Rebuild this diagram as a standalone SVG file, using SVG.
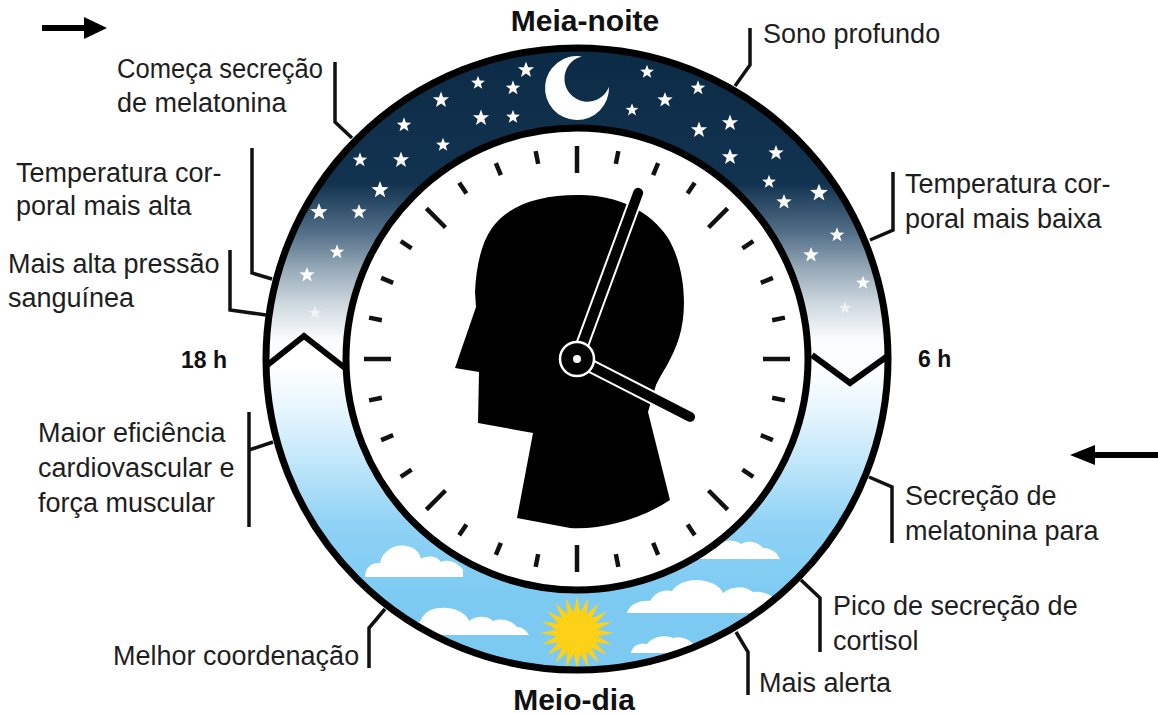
<svg xmlns="http://www.w3.org/2000/svg" width="1158" height="714" viewBox="0 0 1158 714">
<defs>
<style>
.lbl{font-family:"Liberation Sans",Arial,sans-serif;font-size:27px;fill:#1e1e1e}
.ttl{font-family:"Liberation Sans",Arial,sans-serif;font-weight:bold;fill:#111}
.con{fill:none;stroke:#111;stroke-width:3.5;stroke-linejoin:miter}
.tk{stroke:#111;stroke-width:4.5}
.cloud{fill:#fff}
.st{fill:#fff}
</style>
<linearGradient id="night" gradientUnits="userSpaceOnUse" x1="0" y1="45" x2="0" y2="340">
<stop offset="0" stop-color="#0b2a45"/>
<stop offset="0.47" stop-color="#123350"/>
<stop offset="0.64" stop-color="#55718a"/>
<stop offset="0.76" stop-color="#97aab8"/>
<stop offset="0.88" stop-color="#cfd9e0"/>
<stop offset="1" stop-color="#fbfcfd"/>
</linearGradient>
<linearGradient id="day" gradientUnits="userSpaceOnUse" x1="0" y1="365" x2="0" y2="600">
<stop offset="0" stop-color="#ffffff"/>
<stop offset="0.2" stop-color="#e6f5fd"/>
<stop offset="0.42" stop-color="#bfe6fa"/>
<stop offset="0.68" stop-color="#8fd2f5"/>
<stop offset="1" stop-color="#7ccaf2"/>
</linearGradient>
<clipPath id="band"><circle cx="577" cy="359" r="311"/></clipPath>
<clipPath id="nightClip"><polygon points="200,0 960,0 960,355 889,355 850,383 812,355 345,368 304,336 265,367 200,367"/></clipPath>
<path id="star" d="M0,-8.5 L2.07,-2.86 L8.09,-2.63 L3.35,1.09 L5,6.88 L0,3.52 L-5,6.88 L-3.35,1.09 L-8.09,-2.63 L-2.07,-2.86 Z"/>
<polygon id="ray" points="577,596 580.6,614 573.4,614"/>
<line id="ts" class="tk" x1="577" y1="147" x2="577" y2="160"/>
<line id="tl" class="tk" x1="577" y1="146" x2="577" y2="173"/>
</defs>
<rect width="1158" height="714" fill="#fff"/>

<g id="dial-ring">
<circle cx="577" cy="359" r="311" fill="url(#day)"/>
<circle cx="577" cy="359" r="311" fill="url(#night)" clip-path="url(#nightClip)"/>
<g id="stars" class="st">
<use href="#star" transform="translate(526,70)"/>
<use href="#star" transform="translate(478,83) scale(0.85)"/>
<use href="#star" transform="translate(513,88) scale(0.9)"/>
<use href="#star" transform="translate(441,100)"/>
<use href="#star" transform="translate(481,118)"/>
<use href="#star" transform="translate(513,117) scale(0.85)"/>
<use href="#star" transform="translate(404,125) scale(0.9)"/>
<use href="#star" transform="translate(443,145) scale(0.85)"/>
<use href="#star" transform="translate(360,160) scale(0.9)"/>
<use href="#star" transform="translate(401,160)"/>
<use href="#star" transform="translate(380,190) scale(1.05)"/>
<use href="#star" transform="translate(319,212) scale(1.05)"/>
<use href="#star" transform="translate(359,212) scale(0.95)"/>
<use href="#star" transform="translate(337,252) scale(0.9)"/>
<use href="#star" transform="translate(307,275) scale(0.95)"/>
<use href="#star" transform="translate(315,313) scale(0.8)" opacity="0.6"/>
<use href="#star" transform="translate(647,72) scale(0.85)"/>
<use href="#star" transform="translate(698,88) scale(0.9)"/>
<use href="#star" transform="translate(665,100) scale(0.95)"/>
<use href="#star" transform="translate(632,110) scale(0.8)"/>
<use href="#star" transform="translate(730,123)"/>
<use href="#star" transform="translate(699,130)"/>
<use href="#star" transform="translate(730,157)"/>
<use href="#star" transform="translate(776,153) scale(0.95)"/>
<use href="#star" transform="translate(769,182) scale(0.85)"/>
<use href="#star" transform="translate(819,193) scale(1.1)"/>
<use href="#star" transform="translate(784,202) scale(0.95)"/>
<use href="#star" transform="translate(837,235) scale(0.9)"/>
<use href="#star" transform="translate(811,255) scale(0.95)"/>
<use href="#star" transform="translate(863,283) scale(0.85)"/>
<use href="#star" transform="translate(845,308) scale(0.8)" opacity="0.6"/>
</g>
<path id="moon" fill="#fff" d="M581.8,56.4 A32,32 0 1,0 609,86.8 A23,23 0 1,1 581.8,56.4 Z"/>
<g id="clouds" class="cloud" clip-path="url(#band)">
<path d="M365,577 C365,568 371,562 380,563 C383,550 395,544 406,546 C415,547 420,553 421,559 C427,555 437,556 441,562 C447,559 457,561 463,570 L463,577 Z"/>
<path d="M404,635 C404,626 411,621 420,622 C424,611 434,607 447,608 C459,609 467,615 469,621 C475,616 487,615 493,621 C501,617 513,621 517,627 C522,627 526,630 529,635 Z"/>
<path d="M700,559 C700,551 708,547 716,549 C720,540 732,538 741,544 C747,540 757,541 763,548 C771,548 777,552 780,559 Z"/>
<path d="M627,613 C629,605 639,600 650,601 C655,592 664,589 672,591 C678,582 692,578 705,581 C715,583 721,588 723,593 C731,586 745,585 753,592 C763,591 773,595 779,602 L792,613 Z"/>
<path d="M631,653 C632,646 640,642 647,644 C652,637 664,634 673,638 C679,636 689,639 693,644 C698,644 702,648 704,653 Z"/>
</g>
<g id="sun" fill="#fcd116" clip-path="url(#band)">
<circle cx="577" cy="633" r="21"/>
<use href="#ray"/>
<use href="#ray" transform="rotate(18 577 633)"/>
<use href="#ray" transform="rotate(36 577 633)"/>
<use href="#ray" transform="rotate(54 577 633)"/>
<use href="#ray" transform="rotate(72 577 633)"/>
<use href="#ray" transform="rotate(90 577 633)"/>
<use href="#ray" transform="rotate(108 577 633)"/>
<use href="#ray" transform="rotate(126 577 633)"/>
<use href="#ray" transform="rotate(144 577 633)"/>
<use href="#ray" transform="rotate(162 577 633)"/>
<use href="#ray" transform="rotate(180 577 633)"/>
<use href="#ray" transform="rotate(198 577 633)"/>
<use href="#ray" transform="rotate(216 577 633)"/>
<use href="#ray" transform="rotate(234 577 633)"/>
<use href="#ray" transform="rotate(252 577 633)"/>
<use href="#ray" transform="rotate(270 577 633)"/>
<use href="#ray" transform="rotate(288 577 633)"/>
<use href="#ray" transform="rotate(306 577 633)"/>
<use href="#ray" transform="rotate(324 577 633)"/>
<use href="#ray" transform="rotate(342 577 633)"/>
</g>
<polyline points="265,367 304,336 345,368" fill="none" stroke="#000" stroke-width="6"/>
<polyline points="812,355 850,383 889,355" fill="none" stroke="#000" stroke-width="6"/>
<circle cx="577" cy="359" r="311" fill="none" stroke="#000" stroke-width="7"/>
</g>

<g id="clock-face">
<circle cx="577" cy="359" r="231" fill="#fff" stroke="#000" stroke-width="7"/>
<g id="ticks">
<use href="#tl"/>
<use href="#ts" transform="rotate(11.25 577 359)"/>
<use href="#ts" transform="rotate(22.5 577 359)"/>
<use href="#ts" transform="rotate(33.75 577 359)"/>
<use href="#tl" transform="rotate(45 577 359)"/>
<use href="#ts" transform="rotate(56.25 577 359)"/>
<use href="#ts" transform="rotate(67.5 577 359)"/>
<use href="#ts" transform="rotate(78.75 577 359)"/>
<use href="#tl" transform="rotate(90 577 359)"/>
<use href="#ts" transform="rotate(101.25 577 359)"/>
<use href="#ts" transform="rotate(112.5 577 359)"/>
<use href="#ts" transform="rotate(123.75 577 359)"/>
<use href="#tl" transform="rotate(135 577 359)"/>
<use href="#ts" transform="rotate(146.25 577 359)"/>
<use href="#ts" transform="rotate(157.5 577 359)"/>
<use href="#ts" transform="rotate(168.75 577 359)"/>
<use href="#tl" transform="rotate(180 577 359)"/>
<use href="#ts" transform="rotate(191.25 577 359)"/>
<use href="#ts" transform="rotate(202.5 577 359)"/>
<use href="#ts" transform="rotate(213.75 577 359)"/>
<use href="#tl" transform="rotate(225 577 359)"/>
<use href="#ts" transform="rotate(236.25 577 359)"/>
<use href="#ts" transform="rotate(247.5 577 359)"/>
<use href="#ts" transform="rotate(258.75 577 359)"/>
<use href="#tl" transform="rotate(270 577 359)"/>
<use href="#ts" transform="rotate(281.25 577 359)"/>
<use href="#ts" transform="rotate(292.5 577 359)"/>
<use href="#ts" transform="rotate(303.75 577 359)"/>
<use href="#tl" transform="rotate(315 577 359)"/>
<use href="#ts" transform="rotate(326.25 577 359)"/>
<use href="#ts" transform="rotate(337.5 577 359)"/>
<use href="#ts" transform="rotate(348.75 577 359)"/>
</g>
<path id="head" fill="#000" d="M577,195 C615,194 650,210 668,238 C685,266 688,310 679,338 C672,360 662,372 656,385 L648,412 L670,500 C640,520 600,530 570,528 L517,518 L533,433 L478,423 L479,372 L455,368 L476,307 L475,292 C476,270 480,245 492,228 C508,205 540,195 577,195 Z"/>
<g id="hands" stroke-linecap="round">
<line x1="577" y1="359" x2="577" y2="182" stroke="#fff" stroke-width="14" transform="rotate(20.2 577 359)"/>
<line x1="577" y1="359" x2="577" y2="182" stroke="#000" stroke-width="10" transform="rotate(20.2 577 359)"/>
<line x1="577" y1="359" x2="577" y2="232" stroke="#fff" stroke-width="14" transform="rotate(117.1 577 359)"/>
<line x1="577" y1="359" x2="577" y2="232" stroke="#000" stroke-width="10" transform="rotate(117.1 577 359)"/>
<circle cx="577" cy="359" r="17" fill="#000" stroke="#fff" stroke-width="2.5"/>
<circle cx="577" cy="359" r="4" fill="#fff"/>
</g>
</g>

<g id="connectors" class="con">
<polyline points="335,62 335,122 352,138"/>
<polyline points="252,148 252,273 272,279"/>
<polyline points="230,250 230,310 266,315"/>
<polyline points="249,412 249,527"/>
<polyline points="249,450 273,442"/>
<polyline points="369,668 369,628 385,609"/>
<polyline points="750,28 750,65 735,86"/>
<polyline points="893,172 893,230 870,240"/>
<polyline points="892,543 892,487 869,477"/>
<polyline points="820,652 820,598 801,580"/>
<polyline points="748,695 748,652 736,632"/>
</g>

<g id="arrows">
<line x1="42" y1="28" x2="88" y2="28" stroke="#000" stroke-width="6"/>
<polygon points="84,17 107,28 84,39" fill="#000"/>
<line x1="1158" y1="455" x2="1092" y2="455" stroke="#000" stroke-width="6"/>
<polygon points="1095,445 1070,455 1095,465" fill="#000"/>
</g>

<g id="title-midnight"><text class="ttl" x="585" y="31" font-size="30" text-anchor="middle">Meia-noite</text></g>
<g id="title-noon"><text class="ttl" x="574" y="710" font-size="30" text-anchor="middle">Meio-dia</text></g>
<g id="title-18h"><text class="ttl" x="181" y="368" font-size="23">18 h</text></g>
<g id="title-6h"><text class="ttl" x="918" y="367" font-size="23">6 h</text></g>

<g id="lbl-melatonina-start"><text class="lbl" x="117" y="78"><tspan textLength="206" lengthAdjust="spacingAndGlyphs">Começa secreção</tspan><tspan x="117" y="112">de melatonina</tspan></text></g>
<g id="lbl-temp-alta"><text class="lbl" x="16" y="182">Temperatura cor-<tspan x="16" y="215">poral mais alta</tspan></text></g>
<g id="lbl-pressao"><text class="lbl" x="8" y="273">Mais alta pressão<tspan x="8" y="307">sanguínea</tspan></text></g>
<g id="lbl-cardio"><text class="lbl" x="38" y="442">Maior eficiência<tspan x="38" y="477">cardiovascular e</tspan><tspan x="38" y="512">força muscular</tspan></text></g>
<g id="lbl-coordenacao"><text class="lbl" x="113" y="665">Melhor coordenação</text></g>
<g id="lbl-sono"><text class="lbl" x="763" y="43">Sono profundo</text></g>
<g id="lbl-temp-baixa"><text class="lbl" x="905" y="193">Temperatura cor-<tspan x="905" y="228">poral mais baixa</tspan></text></g>
<g id="lbl-melatonina-stop"><text class="lbl" x="905" y="505">Secreção de<tspan x="905" y="540">melatonina para</tspan></text></g>
<g id="lbl-cortisol"><text class="lbl" x="833" y="615">Pico de secreção de<tspan x="833" y="650">cortisol</tspan></text></g>
<g id="lbl-alerta"><text class="lbl" x="759" y="692">Mais alerta</text></g>
</svg>
